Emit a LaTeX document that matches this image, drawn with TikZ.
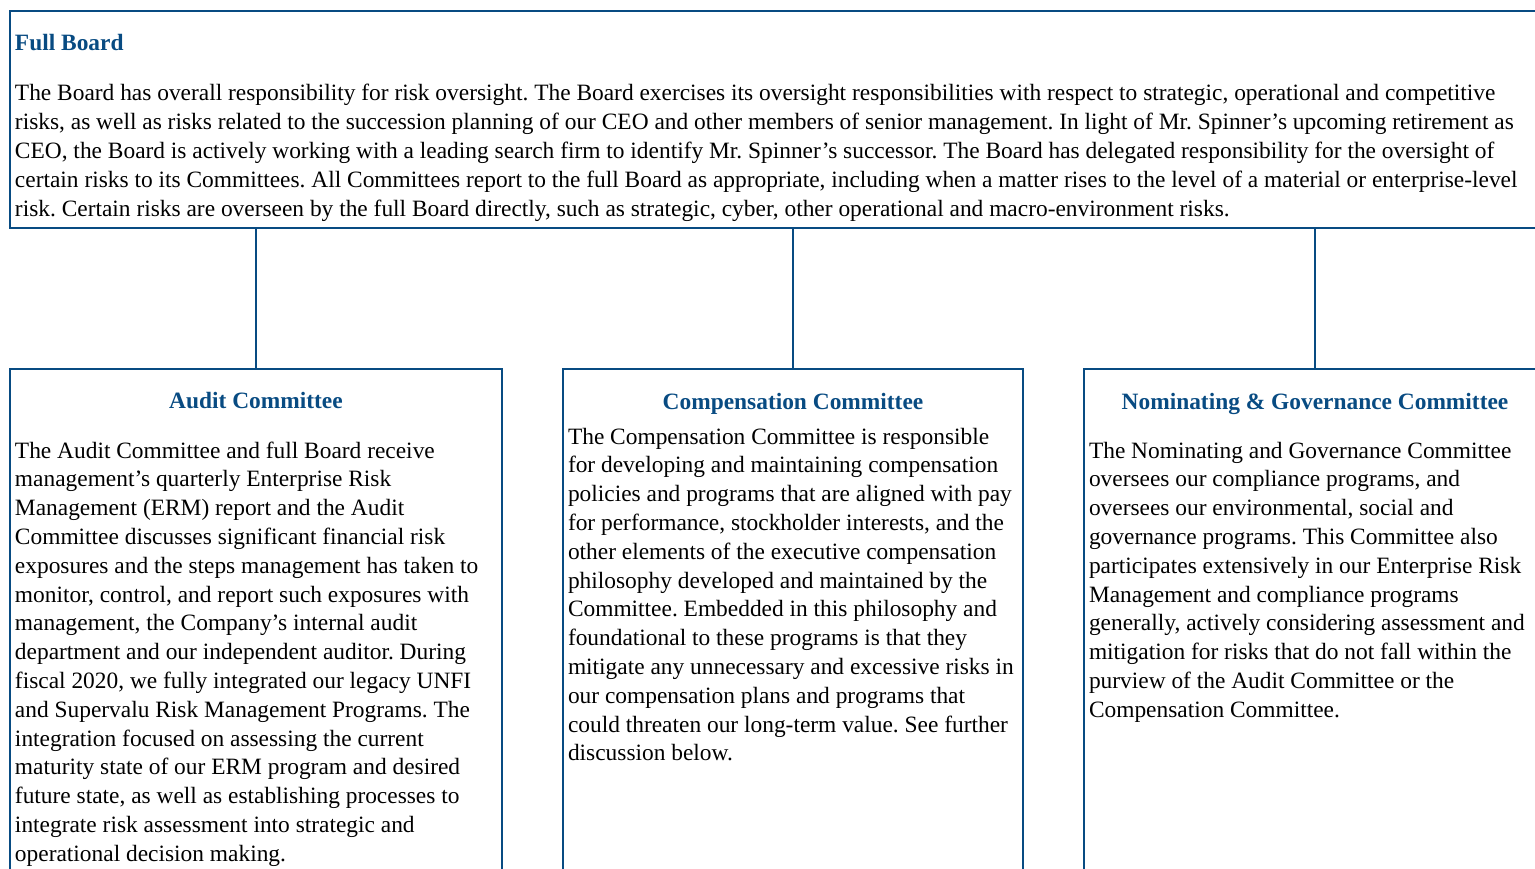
\documentclass[tikz,border=0pt]{standalone}
\usepackage{fontspec}
\setmainfont{Liberation Serif}
\frenchspacing
\definecolor{navy}{RGB}{8,75,130}
\tikzset{
  frame/.style={draw=navy, line width=2pt},
  boxarea/.style={inner sep=0pt, outer sep=0pt, draw=none, anchor=north west},
  bodytext/.style={inner sep=0pt, outer sep=0pt, align=left, anchor=base west,
    font=\fontsize{23.4}{28.8}\selectfont},
  headtext/.style={inner sep=0pt, outer sep=0pt, text=navy,
    font=\fontsize{23.4}{28.8}\selectfont\bfseries},
}
\begin{document}
\begin{tikzpicture}[x=1pt,y=-1pt]
\useasboundingbox (0,0) rectangle (1535,869);
\clip (0,0) rectangle (1535,869);
% areas
\node[boxarea, minimum width=1540pt, minimum height=217pt] (board) at (10,11) {};
\node[boxarea, minimum width=492pt, minimum height=520pt] (audit) at (10,369) {};
\node[boxarea, minimum width=460pt, minimum height=520pt] (comp) at (563,369) {};
\node[boxarea, minimum width=462pt, minimum height=520pt] (nom) at (1084,369) {};
% frames
\draw[frame] (board.north east) -- (board.north west) -- (board.south west) -- (board.south east);
\draw[frame] (audit.south west) -- (audit.north west) -- (audit.north east) -- (audit.south east);
\draw[frame] (comp.south west) -- (comp.north west) -- (comp.north east) -- (comp.south east);
\draw[frame] (nom.south west) -- (nom.north west) -- (nom.north east);
% connectors
\draw[frame] (board.south -| audit.north) -- (audit.north);
\draw[frame] (board.south -| comp.north) -- (comp.north);
\draw[frame] (board.south -| nom.north) -- (nom.north);
% texts (multi-line nodes are anchored at the baseline of their last line)
\node[headtext, anchor=base west] (boardhead) at (15,51) {Full Board};
\node[bodytext] (boardtext) at (15,216.2) {The Board has overall responsibility for risk oversight. The Board exercises its oversight responsibilities with respect to strategic, operational and competitive\\
risks, as well as risks related to the succession planning of our CEO and other members of senior management. In light of Mr. Spinner’s upcoming retirement as\\
CEO, the Board is actively working with a leading search firm to identify Mr. Spinner’s successor. The Board has delegated responsibility for the oversight of\\
certain risks to its Committees. All Committees report to the full Board as appropriate, including when a matter rises to the level of a material or enterprise-level\\
risk. Certain risks are overseen by the full Board directly, such as strategic, cyber, other operational and macro-environment risks.};
\node[headtext, anchor=base] (audithead) at (256,408) {Audit Committee};
\node[bodytext] (audittext) at (15,861.2) {The Audit Committee and full Board receive\\
management’s quarterly Enterprise Risk\\
Management (ERM) report and the Audit\\
Committee discusses significant financial risk\\
exposures and the steps management has taken to\\
monitor, control, and report such exposures with\\
management, the Company’s internal audit\\
department and our independent auditor. During\\
fiscal 2020, we fully integrated our legacy UNFI\\
and Supervalu Risk Management Programs. The\\
integration focused on assessing the current\\
maturity state of our ERM program and desired\\
future state, as well as establishing processes to\\
integrate risk assessment into strategic and\\
operational decision making.};
\node[headtext, anchor=base] (comphead) at (793,409) {Compensation Committee};
\node[bodytext] (comptext) at (568,760.8) {The Compensation Committee is responsible\\
for developing and maintaining compensation\\
policies and programs that are aligned with pay\\
for performance, stockholder interests, and the\\
other elements of the executive compensation\\
philosophy developed and maintained by the\\
Committee. Embedded in this philosophy and\\
foundational to these programs is that they\\
mitigate any unnecessary and excessive risks in\\
our compensation plans and programs that\\
could threaten our long-term value. See further\\
discussion below.};
\node[headtext, anchor=base] (nomhead) at (1315,409) {Nominating \& Governance Committee};
\node[bodytext] (nomtext) at (1089,717.2) {The Nominating and Governance Committee\\
oversees our compliance programs, and\\
oversees our environmental, social and\\
governance programs. This Committee also\\
participates extensively in our Enterprise Risk\\
Management and compliance programs\\
generally, actively considering assessment and\\
mitigation for risks that do not fall within the\\
purview of the Audit Committee or the\\
Compensation Committee.};
\end{tikzpicture}
\end{document}
